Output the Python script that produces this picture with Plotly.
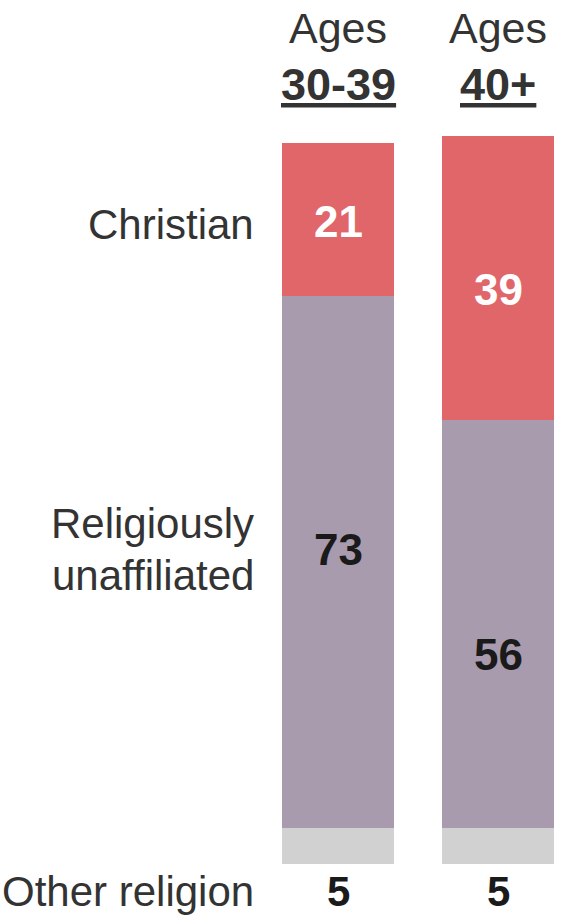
import plotly.graph_objects as go

# ---- data ----
age_groups = ["30-39", "40+"]
categories = ["Other religion", "Religiously<br>unaffiliated", "Christian"]  # bottom -> top
other = [5, 5]
unaffiliated = [73, 56]
christian = [21, 39]
series = [other, unaffiliated, christian]

colors = ["#d1d1d1", "#a99bae", "#e1666a"]
label_colors = ["#1a1a1a", "#1a1a1a", "#ffffff"]
label_shift = [None, [-12, 31], [2, 12]]  # pixel nudges (down positive) for in-bar labels

W, H = 565, 916
ML, MR, MT, MB = 270, 0, 136, 52
PW, PH = W - ML - MR, H - MT - MB

def py(px):  # pixel y -> paper y
    return (H - MB - px) / PH

def pxx(px):  # pixel x -> paper x
    return (px - ML) / PW

FONT = "Liberation Sans, Arial, sans-serif"

xs = [0, 1]
fig = go.Figure()
for vals, col in zip(series, colors):
    fig.add_trace(go.Bar(x=xs, y=vals, marker=dict(color=col, line=dict(width=0)),
                         width=0.706, hoverinfo="skip", showlegend=False))

ann = []
# in-bar value labels
for si in (1, 2):
    for i in range(2):
        base = sum(series[k][i] for k in range(si))
        ann.append(dict(x=xs[i], y=base + series[si][i] / 2, xref="x", yref="y",
                        text=f"<b>{series[si][i]}</b>", showarrow=False,
                        yshift=-label_shift[si][i],
                        font=dict(family=FONT, size=44, color=label_colors[si])))
# "Other religion" values under the bars
for i in range(2):
    ann.append(dict(x=xs[i], y=py(891), xref="x", yref="paper", yanchor="middle",
                    text=f"<b>{other[i]}</b>", showarrow=False,
                    font=dict(family=FONT, size=42, color="#1a1a1a")))

# category labels on the left
cat_y = {"Christian": [224], "Religiously<br>unaffiliated": [523, 575], "Other religion": [891]}
for cat in categories:
    for line, yy in zip(cat.split("<br>"), cat_y[cat]):
        ann.append(dict(x=pxx(256), y=py(yy), xref="paper", yref="paper",
                        xanchor="right", yanchor="middle", text=line, showarrow=False,
                        font=dict(family=FONT, size=42, color="#333333")))

# column headers
for i, g in enumerate(age_groups):
    ann.append(dict(x=xs[i], y=py(28), xref="x", yref="paper", yanchor="middle",
                    text="Ages", showarrow=False,
                    font=dict(family=FONT, size=43, color="#333333")))
    ann.append(dict(x=xs[i], y=py(84), xref="x", yref="paper", yanchor="middle",
                    text=f"<b><u>{g}</u></b>", showarrow=False,
                    font=dict(family=FONT, size=45, color="#333333")))

fig.update_layout(
    width=W, height=H, margin=dict(l=ML, r=MR, t=MT, b=MB),
    barmode="stack", plot_bgcolor="white", paper_bgcolor="white",
    xaxis=dict(range=[-0.425, 1.41875], visible=False, fixedrange=True),
    yaxis=dict(range=[0, 100], visible=False, fixedrange=True),
    annotations=ann,
)
fig.write_html("out.html")
